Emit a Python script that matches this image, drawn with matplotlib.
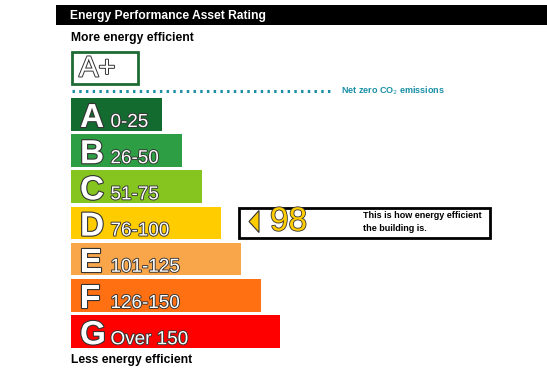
import matplotlib
matplotlib.use("Agg")
import matplotlib.pyplot as plt
import matplotlib.patheffects as pe
from matplotlib.patches import Rectangle, Polygon

# ---- data ----
bands = ["A", "B", "C", "D", "E", "F", "G"]
ranges = ["0-25", "26-50", "51-75", "76-100", "101-125", "126-150", "Over 150"]
band_colors = ["#136b30", "#2e9e44", "#86c420", "#ffcc00", "#f9a64a", "#ff7012", "#ff0000"]
band_rank = [1, 2, 3, 4, 5, 6, 7]
current_rating = 98
current_band_color = "#ffcc00"
title = "Energy Performance Asset Rating"
top_label = "More energy efficient"
bottom_label = "Less energy efficient"
netzero_label = "Net zero CO$_2$ emissions"
aplus_label = "A+"
indicator_text = "This is how energy efficient\nthe building is."

W, H = 547, 372
fig = plt.figure(figsize=(W / 100, H / 100), dpi=100)
ax = fig.add_axes([0, 0, 1, 1])
ax.set_xlim(0, W)
ax.set_ylim(H, 0)
ax.axis("off")

font = "Liberation Sans"
outline = [pe.withStroke(linewidth=1.6, foreground="#333333")]

# header bar
ax.add_patch(Rectangle((56, 5), W - 56, 20, facecolor="black", edgecolor="none"))
ax.text(70, 15.5, title, color="white", fontsize=8.7, fontweight="bold",
        family=font, va="center", ha="left")

ax.text(71, 38, top_label, color="black", fontsize=8.7, fontweight="bold",
        family=font, va="center", ha="left")

# A+ box
ax.add_patch(Rectangle((71.5, 51.5), 66, 32, facecolor="white", edgecolor="#1f6b35", linewidth=2))
ax.text(79, 68.5, aplus_label, color="white", fontsize=21, family=font,
        va="center", ha="left", path_effects=[pe.withStroke(linewidth=1.4, foreground="#333333")])

# net zero dotted line
ax.plot([72, 333], [91, 91], color="#1a8fa5", linestyle=(0, (0.8, 1.4)), linewidth=2.2)
ax.text(341, 91, netzero_label, color="#1a8fa5", fontsize=6.5, fontweight="bold",
        family=font, va="center", ha="left")

# bars
left = 71
step = 36.2
top0 = 98
bar_h = 32.5
base_w = 71.5
w_step = 19.7
ys = [top0 + i * step + bar_h / 2 for i in range(len(bands))]
widths = [base_w + r * w_step for r in band_rank]
ax.barh(ys, widths, left=left, height=bar_h, color=band_colors, edgecolor="none")

for y, b, r in zip(ys, bands, ranges):
    base = y + bar_h / 2 - 3.5
    ax.text(80, base, b, color="white", fontsize=24, family=font, fontweight="bold",
            va="baseline", ha="left", path_effects=outline)
    ax.text(110.5, base, r, color="white", fontsize=13.6, family=font,
            va="baseline", ha="left", path_effects=[pe.withStroke(linewidth=1.3, foreground="#333333")])

ax.text(71, 359.5, bottom_label, color="black", fontsize=8.7, fontweight="bold",
        family=font, va="center", ha="left")

# indicator
ax.add_patch(Rectangle((238.5, 208), 251, 30, facecolor="white", edgecolor="black", linewidth=2))
ax.add_patch(Polygon([[249, 221.5], [259, 210.5], [259, 232.5]], closed=True,
                     facecolor=current_band_color, edgecolor="#333333", linewidth=0.8))
ax.text(270, 222, str(current_rating), color=current_band_color, fontsize=24, family=font,
        va="center", ha="left", path_effects=[pe.withStroke(linewidth=1.2, foreground="#333333")])
ax.text(363, 222, indicator_text, color="black", fontsize=6.5, fontweight="bold",
        family=font, va="center", ha="left", linespacing=1.45)

fig.savefig("out.png", dpi=100)
